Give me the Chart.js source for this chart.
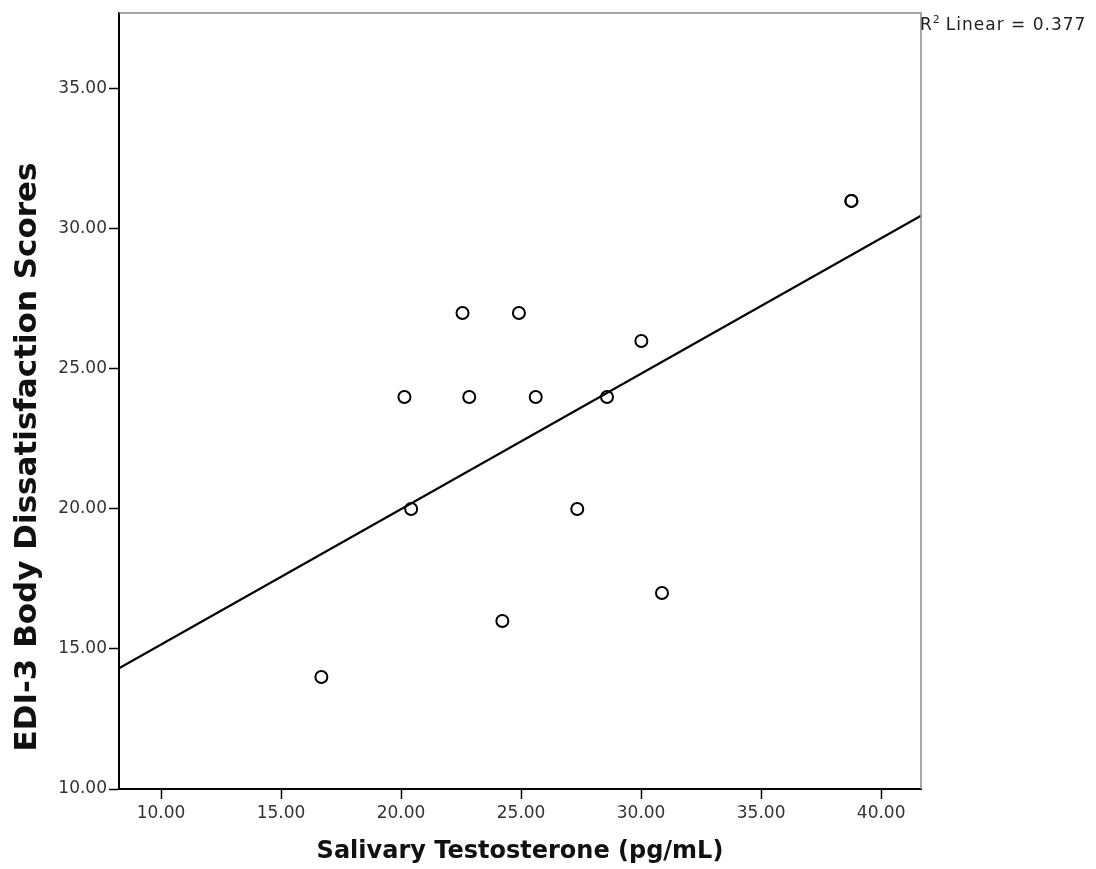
<!DOCTYPE html>
<html>
<head>
<meta charset="utf-8">
<script src="https://cdn.jsdelivr.net/npm/chart.js@4.4.1/dist/chart.umd.min.js"></script>
<style>
  html, body { margin: 0; padding: 0; background: #fff; }
  #wrap { width: 1096px; height: 869px; }
</style>
</head>
<body>
<div id="wrap"><canvas id="chart" width="1096" height="869"></canvas></div>
<script>
// values
const testosterone = [16.68, 20.14, 20.42, 22.56, 22.84, 24.22, 24.91, 25.61, 27.34, 28.58, 30.01, 30.87, 38.76, 38.76];
const bodyScores = [14, 24, 20, 27, 24, 16, 27, 24, 20, 24, 26, 17, 31, 31];

// fit line ends (at the plot edges)
const fitX = [8.25, 41.66];
const fitY = [14.31, 30.47];

const xTicks = [10, 15, 20, 25, 30, 35, 40];
const yTicks = [10, 15, 20, 25, 30, 35];
const rSquared = "0.377";
const yTitle = "EDI-3 Body Dissatisfaction Scores";

const points = testosterone.map((x, i) => ({ x, y: bodyScores[i] }));
const fitLine = fitX.map((x, i) => ({ x, y: fitY[i] }));

// grey frame on top/right, y title and R² note
const framePlugin = {
    id: "frame",
    afterDraw(chart) {
        const { ctx, chartArea } = chart;
        ctx.save();
        ctx.strokeStyle = "#8a8a8a";
        ctx.lineWidth = 1.5;
        ctx.beginPath();
        ctx.moveTo(chartArea.left, chartArea.top);
        ctx.lineTo(chartArea.right, chartArea.top);
        ctx.lineTo(chartArea.right, chartArea.bottom);
        ctx.stroke();

        // y axis title sits a bit below the middle of the axis
        ctx.save();
        ctx.translate(28, 457);
        ctx.rotate(-Math.PI / 2);
        ctx.font = "bold 31px 'DejaVu Sans'";
        ctx.fillStyle = "#111";
        ctx.textAlign = "center";
        ctx.textBaseline = "middle";
        ctx.fillText(yTitle, 0, 0);
        ctx.restore();

        let x = chartArea.right - 1;
        const y = 30;
        ctx.fillStyle = "#222";
        ctx.textBaseline = "alphabetic";
        ctx.font = "17px 'DejaVu Sans'";
        ctx.fillText("R", x, y);
        x += ctx.measureText("R").width + 1;
        ctx.font = "11px 'DejaVu Sans'";
        ctx.fillText("2", x, y - 7);
        x += ctx.measureText("2").width + 6;
        ctx.font = "17px 'DejaVu Sans'";
        ctx.letterSpacing = "1px";
        ctx.fillText("Linear = " + rSquared, x, y);
        ctx.restore();
    }
};

const tickFont = { family: "DejaVu Sans", size: 17 };

new Chart(document.getElementById("chart"), {
    type: "scatter",
    data: {
        datasets: [
            {
                label: "Scores",
                data: points,
                pointRadius: 6,
                pointBorderWidth: 2,
                pointBorderColor: "#000",
                pointBackgroundColor: "rgba(255,255,255,0)",
                order: 1
            },
            {
                type: "line",
                label: "Fit",
                data: fitLine,
                borderColor: "#000",
                borderWidth: 2.2,
                pointRadius: 0,
                fill: false,
                order: 2
            }
        ]
    },
    options: {
        responsive: false,
        animation: false,
        layout: { padding: { top: 13, right: 175, left: 0, bottom: 0 } },
        plugins: {
            legend: { display: false },
            tooltip: { enabled: false }
        },
        scales: {
            x: {
                type: "linear",
                min: fitX[0],
                max: fitX[1],
                afterBuildTicks: (s) => { s.ticks = xTicks.map(v => ({ value: v })); },
                afterFit: (s) => { s.height = 80; },
                grid: { drawOnChartArea: false, color: "#000", tickLength: 10, tickWidth: 1.5 },
                border: { color: "#000", width: 2 },
                ticks: {
                    color: "#333",
                    font: tickFont,
                    padding: 4,
                    callback: (v) => v.toFixed(2)
                },
                title: {
                    display: true,
                    text: "Salivary Testosterone (pg/mL)",
                    color: "#111",
                    font: { family: "DejaVu Sans", size: 24, weight: "bold" },
                    padding: { top: 0, bottom: 3 }
                }
            },
            y: {
                type: "linear",
                min: 10,
                max: 37.71,
                afterBuildTicks: (s) => { s.ticks = yTicks.map(v => ({ value: v })); },
                afterFit: (s) => { s.width = 119; },
                grid: { drawOnChartArea: false, color: "#000", tickLength: 10, tickWidth: 1.5 },
                border: { color: "#000", width: 2 },
                ticks: {
                    color: "#333",
                    font: tickFont,
                    padding: 2,
                    callback: (v) => v.toFixed(2)
                }
            }
        }
    },
    plugins: [framePlugin]
});
</script>
</body>
</html>
